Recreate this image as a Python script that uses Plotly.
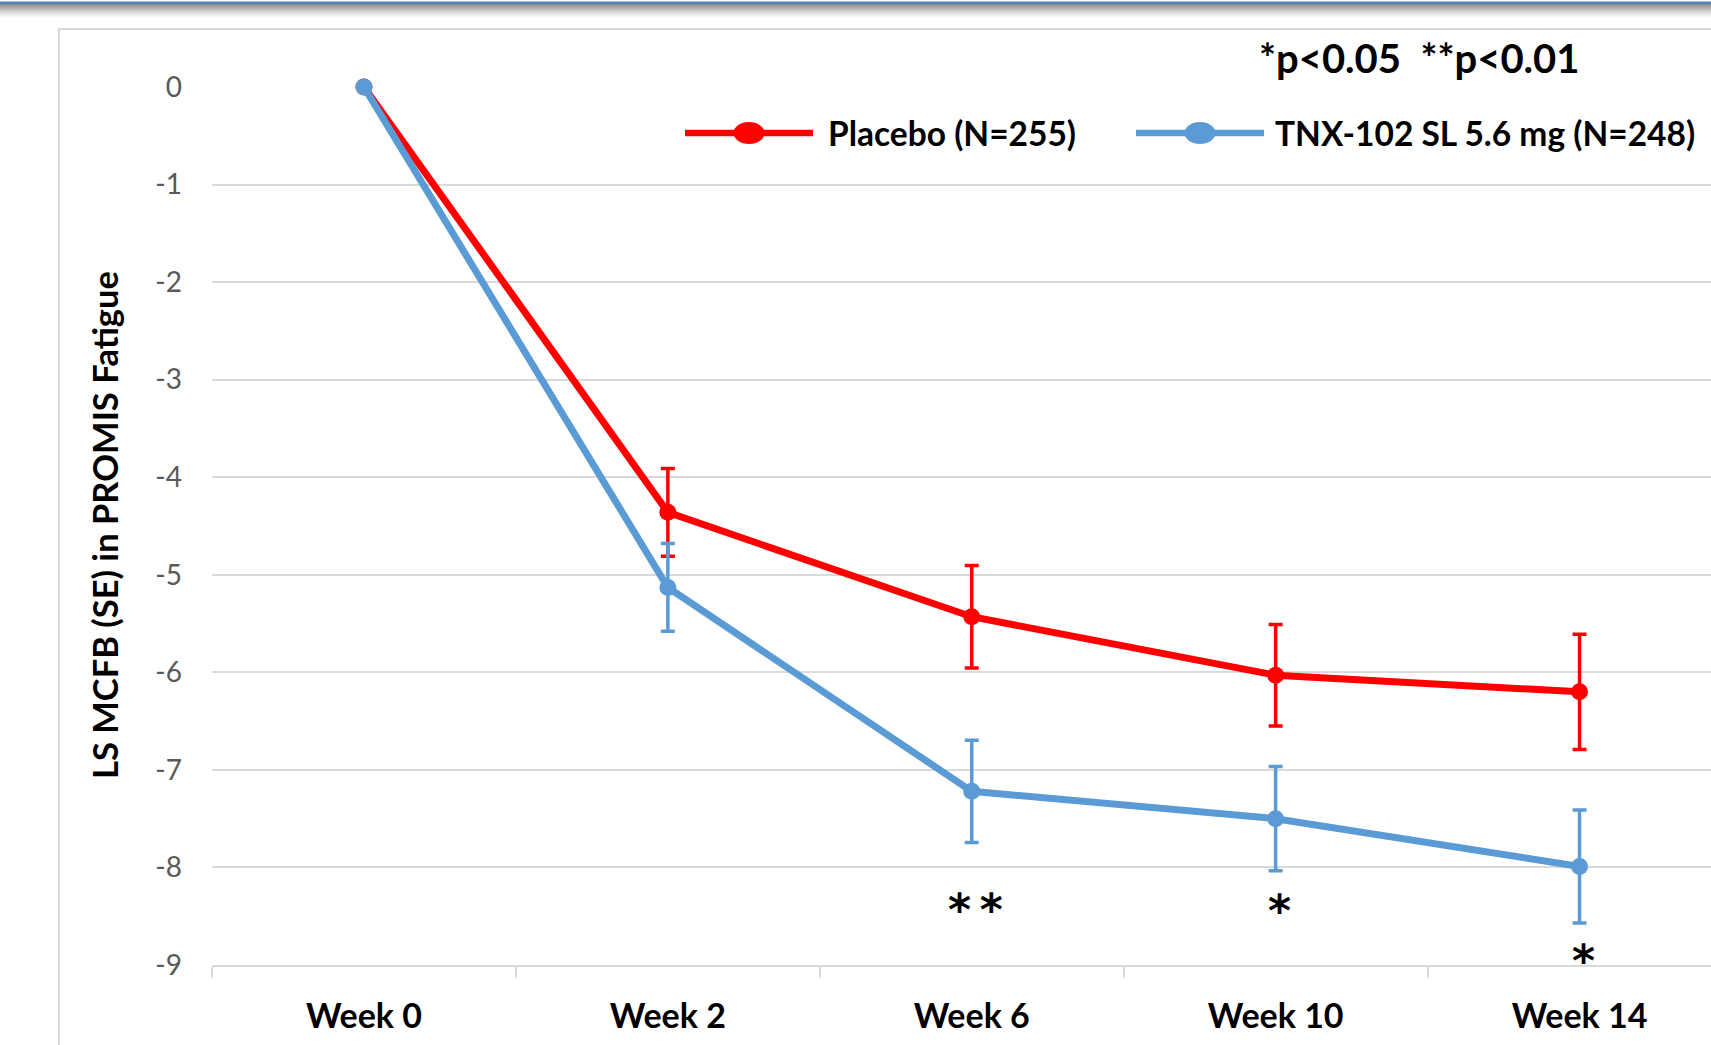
import plotly.graph_objects as go

# ---------------- data ----------------
weeks = ["Week 0", "Week 2", "Week 6", "Week 10", "Week 14"]
placebo_mean = [0, -4.36, -5.43, -6.03, -6.20]
placebo_se = [None, 0.45, 0.525, 0.52, 0.59]
tnx_mean = [0, -5.13, -7.22, -7.50, -7.99]
tnx_se = [None, 0.45, 0.525, 0.535, 0.58]
placebo_name = "Placebo (N=255)"
tnx_name = "TNX-102 SL 5.6 mg (N=248)"
sig_weeks = ["Week 6", "Week 10", "Week 14"]
sig_labels = ["**", "*", "*"]
sig_y = [-8.35, -8.36, -8.87]
y_tick_vals = [0, -1, -2, -3, -4, -5, -6, -7, -8, -9]
y_tick_text = ["0", "-1", "-2", "-3", "-4", "-5", "-6", "-7", "-8", "-9"]
y_title = "LS MCFB (SE) in PROMIS Fatigue"
p_note = "*p<0.05  **p<0.01"

# ---------------- style ----------------
W, H = 1711, 1045
ML, MR, MT, MB = 212, 0, 87, 80
PW, PH = W - ML - MR, H - MT - MB
RED = "#ff0000"
BLUE = "#5b9bd5"
GRID = "#d9d9d9"
FONT = "Lato"


def px(x):
    return (x - ML) / PW


def py(y):
    return (H - MB - y) / PH


fig = go.Figure()

fig.add_trace(go.Scatter(
    x=weeks, y=placebo_mean, name=placebo_name, mode="lines+markers",
    line=dict(color=RED, width=7), marker=dict(color=RED, size=17),
    error_y=dict(type="data", array=placebo_se, color=RED, thickness=3.5, width=7),
    cliponaxis=False,
))
fig.add_trace(go.Scatter(
    x=weeks, y=tnx_mean, name=tnx_name, mode="lines+markers",
    line=dict(color=BLUE, width=7), marker=dict(color=BLUE, size=17),
    error_y=dict(type="data", array=tnx_se, color=BLUE, thickness=3.5, width=7),
    cliponaxis=False,
))

shapes = []
annotations = []

# chart-area frame
shapes.append(dict(type="rect", xref="paper", yref="paper",
                   x0=px(59), x1=px(1800), y0=py(1200), y1=py(29),
                   line=dict(color=GRID, width=2), fillcolor="rgba(0,0,0,0)", layer="below"))
# top blue rule with shadow
shapes.append(dict(type="rect", xref="paper", yref="paper",
                   x0=px(-5), x1=px(W + 5), y0=py(4), y1=py(1.5),
                   line=dict(width=0), fillcolor="#4f81bd", layer="above"))
steps = 14
for i in range(steps):
    a = 0.7 * (1 - i / steps) ** 1.4
    shapes.append(dict(type="rect", xref="paper", yref="paper",
                       x0=px(-5), x1=px(W + 5), y0=py(4 + i + 1), y1=py(4 + i),
                       line=dict(width=0), fillcolor=f"rgba(90,90,90,{a:.3f})", layer="above"))

# manual legend
leg_y = py(133)
for (x0, x1, col, label, tx) in [(685, 813, RED, placebo_name, 826),
                                 (1136, 1264, BLUE, tnx_name, 1273)]:
    shapes.append(dict(type="line", xref="paper", yref="paper",
                       x0=px(x0), x1=px(x1), y0=leg_y, y1=leg_y,
                       line=dict(color=col, width=6.5)))
    cx = px((x0 + x1) / 2)
    shapes.append(dict(type="circle", xref="paper", yref="paper",
                       xsizemode="pixel", ysizemode="pixel",
                       xanchor=cx, yanchor=leg_y,
                       x0=-15.5, x1=15.5, y0=-11, y1=11,
                       fillcolor=col, line=dict(color=col, width=0)))
    annotations.append(dict(xref="paper", yref="paper", x=px(tx), y=leg_y,
                            xanchor="left", yanchor="middle", text=label, showarrow=False,
                            font=dict(family=FONT, size=33.5, color="black", weight="bold")))

# p-value note
annotations.append(dict(xref="paper", yref="paper", x=px(1419), y=py(58),
                        xanchor="center", yanchor="middle", text=p_note, showarrow=False,
                        font=dict(family=FONT, size=40, color="black", weight="bold")))

# y-axis title
annotations.append(dict(xref="paper", yref="paper", x=px(104), y=py(525),
                        xanchor="center", yanchor="middle", text=y_title, textangle=-90,
                        showarrow=False,
                        font=dict(family=FONT, size=34.5, color="black", weight="bold")))

# significance stars
for wk, lab, yy in zip(sig_weeks, sig_labels, sig_y):
    annotations.append(dict(xref="x", yref="y", x=wk, y=yy, text="\u2009".join(lab),
                            showarrow=False, xanchor="center", yanchor="middle",
                            xshift=4, yshift=-8,
                            font=dict(family="DejaVu Sans", size=44, color="black",
                                      weight="bold")))

fig.update_layout(
    width=W, height=H, autosize=False,
    margin=dict(l=ML, r=MR, t=MT, b=MB, pad=0),
    paper_bgcolor="white", plot_bgcolor="white",
    showlegend=False,
    shapes=shapes, annotations=annotations,
    xaxis=dict(type="category", categoryorder="array", categoryarray=weeks,
               range=[-0.5, -0.5 + PW / 303.9],
               showgrid=False, zeroline=False,
               showline=True, linecolor=GRID, linewidth=2,
               ticks="outside", tickson="boundaries", ticklen=11, tickwidth=2, tickcolor=GRID,
               tickfont=dict(family=FONT, size=34, color="black", weight="bold"),
               ticklabelstandoff=20),
    yaxis=dict(range=[-9, 0], tickvals=y_tick_vals, ticktext=y_tick_text,
               showgrid=True, gridcolor=GRID, gridwidth=2, zeroline=False,
               showline=False, ticks="",
               tickfont=dict(family=FONT, size=28, color="#595959"),
               ticklabelstandoff=29),
)

fig.write_html("out.html", config={"displayModeBar": False},
               post_script="document.body.style.margin='0';document.body.style.overflow='hidden';")
